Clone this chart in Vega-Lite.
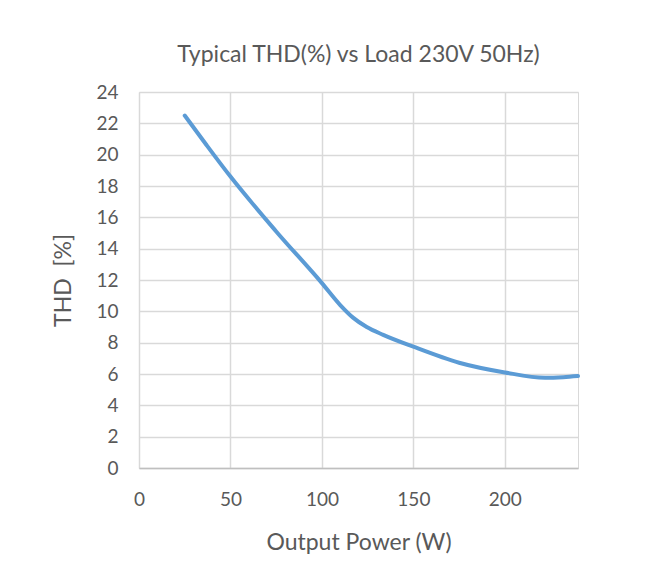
{
  "$schema": "https://vega.github.io/schema/vega-lite/v6.json",
  "autosize": "none",
  "padding": {"left": 139, "top": 92, "right": 70, "bottom": 120},
  "width": 439,
  "height": 376,
  "background": "white",
  "title": {
    "text": "Typical THD(%) vs Load 230V 50Hz)",
    "font": "Lato",
    "fontSize": 23,
    "fontWeight": "normal",
    "color": "#595959",
    "offset": 16,
    "anchor": "middle"
  },
  "data": {
    "values": [
      {"power": 25, "thd": 22.5},
      {"power": 37, "thd": 20.6},
      {"power": 50, "thd": 18.6},
      {"power": 75, "thd": 15.1},
      {"power": 100, "thd": 11.8},
      {"power": 110, "thd": 10.4},
      {"power": 117, "thd": 9.6},
      {"power": 124.5, "thd": 9.0},
      {"power": 133.5, "thd": 8.5},
      {"power": 150, "thd": 7.74},
      {"power": 175, "thd": 6.72},
      {"power": 200, "thd": 6.1},
      {"power": 222, "thd": 5.76},
      {"power": 232, "thd": 5.8},
      {"power": 240, "thd": 5.87}
    ]
  },
  "mark": {"type": "line", "color": "#5b9bd5", "strokeWidth": 4, "interpolate": "monotone", "strokeCap": "round"},
  "encoding": {
    "x": {
      "field": "power",
      "type": "quantitative",
      "title": "Output Power (W)",
      "scale": {"domain": [0, 240], "nice": false},
      "axis": {"values": [0, 50, 100, 150, 200], "grid": true, "ticks": false, "labelPadding": 22, "titlePadding": 22, "labelOverlap": false, "labelFlush": false}
    },
    "y": {
      "field": "thd",
      "type": "quantitative",
      "title": "THD\u00a0\u00a0[%]",
      "scale": {"domain": [0, 24], "nice": false},
      "axis": {"values": [0,2,4,6,8,10,12,14,16,18,20,22,24], "grid": true, "ticks": false, "domain": false, "labelPadding": 21, "titlePadding": 20, "labelOverlap": false, "labelFlush": false}
    }
  },
  "config": {
    "view": {"stroke": "#d9d9d9"},
    "axis": {
      "labelFont": "Lato",
      "labelFontSize": 19,
      "labelColor": "#595959",
      "titleFont": "Lato",
      "titleFontSize": 23,
      "titleFontWeight": "normal",
      "titleColor": "#595959",
      "gridColor": "#d9d9d9",
      "gridWidth": 1.5,
      "domainColor": "#bfbfbf",
      "domainWidth": 1.5
    }
  }
}
